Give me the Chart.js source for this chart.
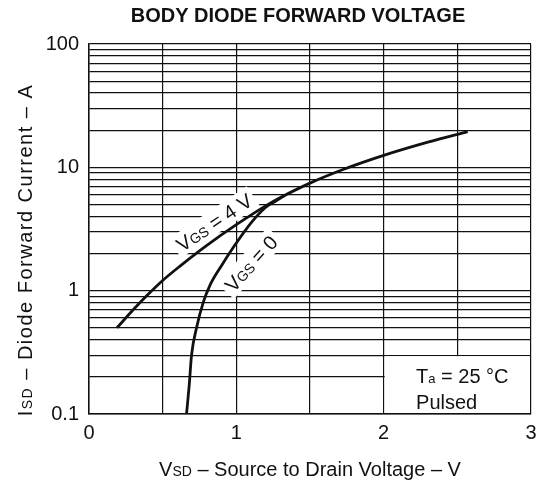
<!DOCTYPE html>
<html>
<head>
<meta charset="utf-8">
<script src="https://cdn.jsdelivr.net/npm/chart.js@4.4.1/dist/chart.umd.min.js"></script>
<style>
  html, body { margin: 0; padding: 0; background: #fff; }
  #wrap { width: 547px; height: 486px; position: relative; }
</style>
</head>
<body>
<div id="wrap"><canvas id="diodeChart"></canvas></div>
<script>
// curves (V, A)
const vsdVgs4 = [0.19, 0.3, 0.4, 0.5, 0.62, 0.8, 1.0, 1.23, 1.3, 1.5, 1.72, 2.0, 2.3, 2.57];
const isdVgs4 = [0.5, 0.7, 0.93, 1.21, 1.59, 2.33, 3.43, 5.13, 5.7, 7.45, 9.55, 12.5, 16.0, 19.5];
const vsdVgs0 = [0.662, 0.68, 0.696, 0.73, 0.775, 0.82, 0.9, 0.98, 1.1, 1.2, 1.27, 1.33];
const isdVgs0 = [0.1, 0.17, 0.3, 0.5, 0.8, 1.1, 1.6, 2.25, 3.55, 4.75, 5.35, 5.93];

// axis ticks / grid
const xLabels = [0, 1, 2, 3];
const yGrid = [0.1, 0.2, 0.3, 0.4, 0.5, 0.6, 0.7, 0.8, 0.9,
               1, 2, 3, 4, 5, 6, 7, 8, 9,
               10, 20, 30, 40, 50, 60, 70, 80, 90, 100];
const yLabels = [0.1, 1, 10, 100];

const FONT = "'Liberation Sans', Arial, Helvetica, sans-serif";
const INK = '#111';

// draw text pieces on one baseline, subscripts are just the smaller pieces
function drawRuns(ctx, runs, x, y, align) {
  let total = 0;
  runs.forEach(([t, s]) => { ctx.font = s + 'px ' + FONT; total += ctx.measureText(t).width; });
  let cx = align === 'center' ? x - total / 2 : x;
  runs.forEach(([t, s]) => {
    ctx.font = s + 'px ' + FONT;
    ctx.fillText(t, cx, y);
    cx += ctx.measureText(t).width;
  });
  return total;
}

function runsWidth(ctx, runs) {
  let w = 0;
  runs.forEach(([t, s]) => { ctx.font = s + 'px ' + FONT; w += ctx.measureText(t).width; });
  return w;
}

// rotated curve label with a white patch behind it (hides the grid like the print)
function curveLabel(ctx, runs, px, py, deg) {
  ctx.save();
  ctx.translate(px, py);
  ctx.rotate(deg * Math.PI / 180);
  const w = runsWidth(ctx, runs);
  ctx.fillStyle = '#fff';
  ctx.fillRect(-w / 2 - 4, -12, w + 8, 23);
  ctx.fillStyle = INK;
  ctx.textBaseline = 'alphabetic';
  drawRuns(ctx, runs, 0, 7, 'center');
  ctx.restore();
}

const annotations = {
  id: 'annotations',
  beforeDatasetsDraw(chart) {
    const { ctx, scales: { x, y } } = chart;
    // Ta box in the lower right corner
    ctx.save();
    ctx.fillStyle = '#fff';
    const bx0 = x.getPixelForValue(2) + 1, bx1 = x.getPixelForValue(3) - 1;
    const by0 = y.getPixelForValue(0.3) + 1, by1 = y.getPixelForValue(0.1) - 1;
    ctx.fillRect(bx0, by0, bx1 - bx0, by1 - by0);
    ctx.fillStyle = INK;
    ctx.textBaseline = 'alphabetic';
    const tx = x.getPixelForValue(2.22);
    drawRuns(ctx, [['T', 20], ['a', 13], [' = 25 \u00B0C', 20]], tx, by0 + 27, 'left');
    drawRuns(ctx, [['Pulsed', 20]], tx, by0 + 53, 'left');
    ctx.restore();

    curveLabel(ctx, [['V', 20], ['GS', 14], [' = 4 V', 20]],
      x.getPixelForValue(0.85), y.getPixelForValue(3.57), -34);
    curveLabel(ctx, [['V', 20], ['GS', 14], [' = 0', 20]],
      x.getPixelForValue(1.10), y.getPixelForValue(1.66), -48);
  },
  afterDraw(chart) {
    const { ctx, chartArea: a } = chart;
    ctx.save();
    ctx.fillStyle = INK;
    ctx.textBaseline = 'alphabetic';
    // title
    ctx.font = 'bold 20px ' + FONT;
    ctx.textAlign = 'center';
    ctx.fillText('BODY DIODE FORWARD VOLTAGE', 298, 22);
    ctx.textAlign = 'left';
    // x axis title
    drawRuns(ctx, [['V', 20], ['SD', 14], [' \u2013 Source to Drain Voltage \u2013 V', 20]],
      (a.left + a.right) / 2, 476, 'center');
    // y axis title
    ctx.translate(32, 250);
    ctx.rotate(-Math.PI / 2);
    ctx.letterSpacing = '1.5px';
    drawRuns(ctx, [['I', 20], ['SD', 14], [' \u2013 Diode Forward Current \u2013 A', 20]], 0, 0, 'center');
    ctx.restore();
  }
};

Chart.defaults.font.family = FONT;
Chart.defaults.color = INK;

const ctx = document.getElementById('diodeChart').getContext('2d');
const chart = new Chart(ctx, {
  type: 'line',
  data: {
    datasets: [
      {
        label: 'VGS = 4 V',
        data: vsdVgs4.map((v, i) => ({ x: v, y: isdVgs4[i] })),
        borderColor: INK,
        borderWidth: 2.8,
        pointRadius: 0,
        cubicInterpolationMode: 'monotone',
      },
      {
        label: 'VGS = 0',
        data: vsdVgs0.map((v, i) => ({ x: v, y: isdVgs0[i] })),
        borderColor: INK,
        borderWidth: 2.8,
        pointRadius: 0,
        cubicInterpolationMode: 'monotone',
      },
    ],
  },
  options: {
    responsive: true,
    maintainAspectRatio: false,
    animation: false,
    events: [],
    layout: { padding: { top: 44, right: 16, left: 0, bottom: 0 } },
    plugins: {
      legend: { display: false },
      tooltip: { enabled: false },
    },
    scales: {
      x: {
        type: 'linear',
        min: 0,
        max: 3,
        afterFit: (s) => { s.height = 72; },
        ticks: {
          stepSize: 0.5,
          padding: 7,
          font: { size: 20 },
          maxRotation: 0,
          callback: (v) => (xLabels.includes(v) ? String(v) : ''),
        },
        grid: { color: INK, lineWidth: 1.2, drawTicks: false },
        border: { color: INK, width: 1.5 },
      },
      y: {
        type: 'logarithmic',
        min: 0.1,
        max: 100,
        afterFit: (s) => { s.width = 89; },
        afterBuildTicks: (s) => { s.ticks = yGrid.map((v) => ({ value: v })); },
        ticks: {
          padding: 10,
          font: { size: 20 },
          autoSkip: false,
          callback: (v) => (yLabels.includes(v) ? String(v) : ''),
        },
        grid: { color: INK, lineWidth: 1.2, drawTicks: false },
        border: { color: INK, width: 1.5 },
      },
    },
  },
  plugins: [annotations],
});
</script>
</body>
</html>
